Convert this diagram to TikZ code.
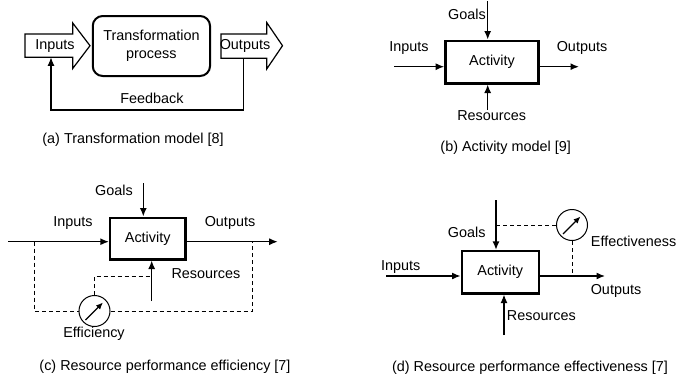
\documentclass[tikz,border=0pt]{standalone}
\usepackage{fontspec}
\setmainfont{Liberation Sans}
\usetikzlibrary{arrows.meta,calc}
\begin{document}
\begin{tikzpicture}[x=1pt,y=-1pt,
  font=\fontsize{14.4}{17.5}\selectfont,
  ln/.style={line width=1.3pt},
  arr/.style={ln,-{Latex[length=8.5pt,width=7pt]}},
  meterarr/.style={line width=1.3pt,-{Latex[length=7pt,width=6pt]}},
  dsh/.style={line width=1pt,dash pattern=on 4pt off 3pt},
  actbox/.style={draw,line width=2.4pt,inner sep=0pt},
  meter/.style={circle,draw,line width=1pt,inner sep=0pt,minimum size=31pt},
  lbl/.style={inner sep=0pt},
  blockarr/.style={draw,line width=1.2pt,line join=miter}
]
\useasboundingbox (0,0) rectangle (680,378);

% ---------------- (a) Transformation model ----------------
\draw[blockarr] (25,34) -- (72.7,34) -- (72.7,23) -- (90,45.7) -- (72.7,68.5) -- (72.7,57.3) -- (25,57.3) -- cycle;
\node[lbl] (inA) at (55,46) {Inputs};
\node[draw,rounded corners=10pt,line width=2pt,minimum width=117.3pt,minimum height=60pt,align=center,inner sep=0pt] (tp) at (151.4,46) {Transformation\\process};
\draw[blockarr] (221,34) -- (266.7,34) -- (266.7,22.5) -- (282.5,45.7) -- (266.7,69) -- (266.7,58.3) -- (221,58.3) -- cycle;
\node[lbl] (outA) at (245,46) {Outputs};
\coordinate (fbOut) at (243.3,58.3);
\coordinate (fbIn) at (51,57.3);
\draw[arr] (fbOut) -- (243.3,110) -| (fbIn);
\node[lbl] (fbA) at (152,98) {Feedback};
\node[lbl] (capA) at (133,140) {(a) Transformation model [8]};

% ---------------- (b) Activity model ----------------
\node[actbox,minimum width=93.3pt,minimum height=42.6pt] (actB) at (492,62) {Activity};
\coordinate (bIn) at (394,66.7);
\coordinate (bOut) at (579,66.7);
\coordinate (bG) at (487.7,1);
\coordinate (bR) at (487.7,110);
\draw[arr] (bIn) -- (actB.west |- bIn);
\draw[arr] (actB.east |- bOut) -- (bOut);
\draw[arr] (bG) -- (bG |- actB.north);
\draw[arr] (bR) -- (bR |- actB.south);
\node[lbl] (inBl) at (409,48) {Inputs};
\node[lbl] (outBl) at (582,48) {Outputs};
\node[lbl] (gBl) at (467,14) {Goals};
\node[lbl] (rBl) at (491.7,115.5) {Resources};
\node[lbl] (capB) at (505.7,148) {(b) Activity model [9]};

% ---------------- (c) Resource performance efficiency ----------------
\node[actbox,minimum width=75.3pt,minimum height=41.6pt] (actC) at (147.7,238.5) {Activity};
\coordinate (cIn) at (8,241.7);
\coordinate (cOut) at (277.7,241.7);
\coordinate (cG) at (143.3,183);
\coordinate (cR) at (151.7,301);
\draw[arr] (cIn) -- (actC.west |- cIn);
\draw[arr] (actC.east |- cOut) -- (cOut);
\draw[arr] (cG) -- (cG |- actC.north);
\draw[arr] (cR) -- (cR |- actC.south);
\node[lbl] (inCl) at (73,223) {Inputs};
\node[lbl] (outCl) at (230,223) {Outputs};
\node[lbl] (gCl) at (114,190) {Goals};
\node[lbl] (rCl) at (206,274) {Resources};
\node[meter] (effC) at (94.5,311) {};
\coordinate (cInTap) at (34.3,241.7);
\coordinate (cOutTap) at (252.7,241.7);
\coordinate (cRTap) at (151.7,276);
\draw[dsh] (cInTap) |- (effC.west);
\draw[dsh] (effC.east) -| (cOutTap);
\draw[dsh] (effC.north) |- (cRTap);
\draw[meterarr] ($(effC)+(-9,9)$) -- ($(effC)+(8.5,-8.5)$);
\node[lbl] (effCl) at (94,333.5) {Efficiency};
\node[lbl] (capC) at (165,366.7) {(c) Resource performance efficiency [7]};

% ---------------- (d) Resource performance effectiveness ----------------
\node[actbox,minimum width=77pt,minimum height=42.3pt] (actD) at (500.2,272.2) {Activity};
\coordinate (dIn) at (386,276);
\coordinate (dOut) at (605,276);
\coordinate (dG) at (496,200);
\coordinate (dR) at (504,335);
\draw[arr] (dIn) -- (actD.west |- dIn);
\draw[arr] (actD.east |- dOut) -- (dOut);
\draw[arr] (dG) -- (dG |- actD.north);
\draw[arr] (dR) -- (dR |- actD.south);
\node[lbl] (inDl) at (400.7,266.7) {Inputs};
\node[lbl] (outDl) at (616,290.7) {Outputs};
\node[lbl] (gDl) at (466.7,232) {Goals};
\node[lbl,anchor=west] (rDl) at (506.7,315.7) {Resources};
\node[meter] (effD) at (572,225) {};
\coordinate (dGTap) at (496,225);
\coordinate (dOutTap) at (572,276);
\draw[dsh] (dGTap) -- (effD.west);
\draw[dsh] (effD.south) -- (dOutTap);
\draw[meterarr] ($(effD)+(-9,9)$) -- ($(effD)+(8.5,-8.5)$);
\node[lbl,anchor=west] (effDl) at (590.7,241) {Effectiveness};
\node[lbl] (capD) at (530,367.7) {(d) Resource performance effectiveness [7]};
\end{tikzpicture}
\end{document}
